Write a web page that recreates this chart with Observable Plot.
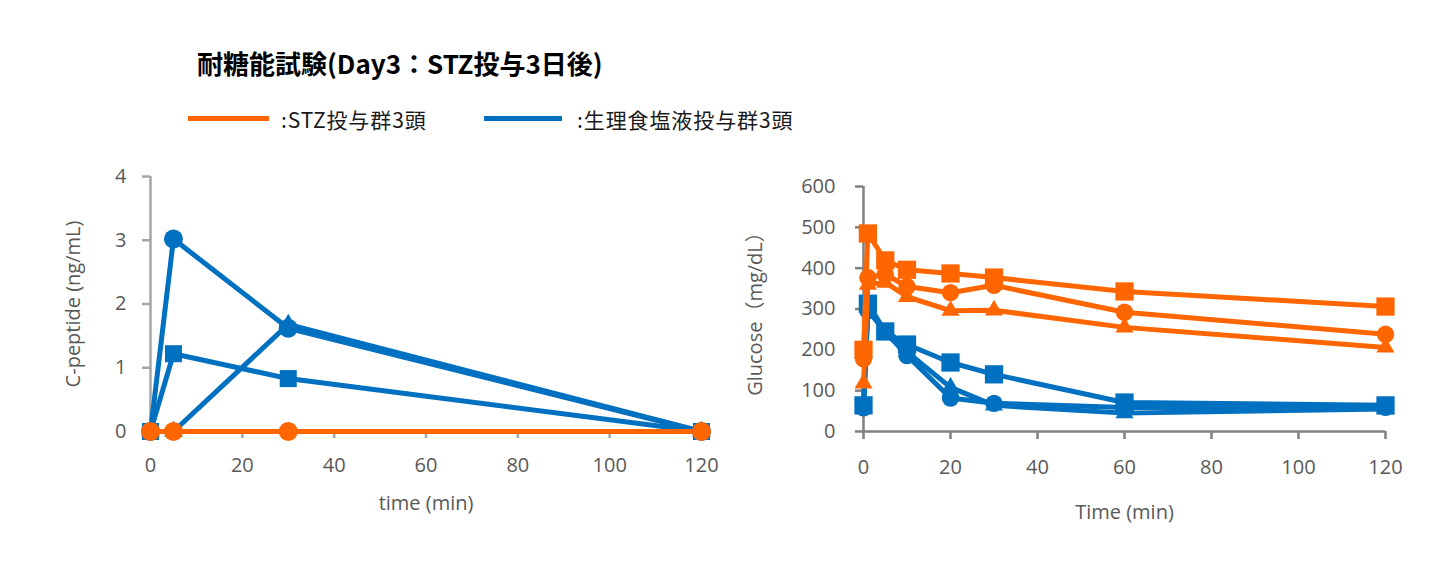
<!DOCTYPE html>
<html><head><meta charset="utf-8">
<script src="https://cdn.jsdelivr.net/npm/d3@7"></script>
<script src="https://cdn.jsdelivr.net/npm/@observablehq/plot@0.6"></script>
<style>
body{margin:0;background:#fff;}
#root{position:relative;width:1440px;height:570px;background:#fff;font-family:"Open Sans","Noto Sans CJK JP",sans-serif;overflow:hidden;}
.abs{position:absolute;}
#title{left:197px;top:49px;font-family:"Noto Sans CJK JP",sans-serif;font-weight:bold;font-size:26px;line-height:28px;color:#000;white-space:nowrap;}
.lgline{height:5px;}
.lgtext{font-family:"Noto Sans CJK JP",sans-serif;font-size:21px;line-height:22px;letter-spacing:0.9px;color:#1a1a1a;white-space:nowrap;}
</style></head>
<body><div id="root"></div>
<script>
// ---- data ----
const titleText = "耐糖能試験(Day3：STZ投与3日後)";
const groups = ["saline", "STZ"];
const groupLabels = [":STZ投与群3頭", ":生理食塩液投与群3頭"];
const groupColors = ["#0070C0", "#FF6600"];

// C-peptide (ng/mL)
const cpTime = [0, 5, 30, 120];
const cpSalineSquare = [0, 1.22, 0.83, 0];
const cpSalineTriangle = [0, 0, 1.68, 0];
const cpSalineCircle = [0, 3.02, 1.62, 0];
const cpStzCircle = [0, 0, 0, 0];
const cpTicksX = [0, 20, 40, 60, 80, 100, 120];
const cpTicksY = [0, 1, 2, 3, 4];

// Glucose (mg/dL)
const gluTime = [0, 1, 5, 10, 20, 30, 60, 120];
const gluSalineSquare = [64, 313, 245, 213, 169, 140, 71, 64];
const gluSalineTriangle = [58, 305, 240, 195, 108, 64, 45, 55];
const gluSalineCircle = [58, 296, 245, 186, 82, 69, 59, 59];
const gluStzSquare = [200, 485, 419, 396, 387, 377, 343, 306];
const gluStzTriangle = [118, 360, 365, 330, 296, 297, 255, 206];
const gluStzCircle = [178, 377, 385, 355, 340, 358, 292, 238];
const gluTicksX = [0, 20, 40, 60, 80, 100, 120];
const gluTicksY = [0, 100, 200, 300, 400, 500, 600];

function rows(group, shape, times, values) {
  return times.map((t, i) => ({t, v: values[i], group, shape, id: group + "-" + shape}));
}
const cpRows = [
  ...rows("saline", "square", cpTime, cpSalineSquare),
  ...rows("saline", "triangle", cpTime, cpSalineTriangle),
  ...rows("saline", "circle", cpTime, cpSalineCircle),
  ...rows("STZ", "circle", cpTime, cpStzCircle)
];
const gluRows = [
  ...rows("saline", "square", gluTime, gluSalineSquare),
  ...rows("saline", "triangle", gluTime, gluSalineTriangle),
  ...rows("saline", "circle", gluTime, gluSalineCircle),
  ...rows("STZ", "square", gluTime, gluStzSquare),
  ...rows("STZ", "triangle", gluTime, gluStzTriangle),
  ...rows("STZ", "circle", gluTime, gluStzCircle)
];

const root = document.getElementById("root");
function div(cls, style, text) {
  const d = document.createElement("div");
  d.className = "abs " + cls;
  Object.assign(d.style, style);
  if (text) d.textContent = text;
  root.appendChild(d);
  return d;
}
const t = div("", {}, titleText); t.id = "title";
// legend
div("lgline", {left: "188px", top: "116px", width: "81px", background: groupColors[1]});
div("lgtext", {left: "281px", top: "108px"}, groupLabels[0]);
div("lgline", {left: "484px", top: "116px", width: "78px", background: groupColors[0]});
div("lgtext", {left: "577px", top: "108px"}, groupLabels[1]);

function chart(data, cfg) {
  const marks = [];
  marks.push(Plot.ruleY([0], {stroke: cfg.axisColor, strokeWidth: 2.5}));
  marks.push(Plot.ruleX([0], {stroke: cfg.axisColor, strokeWidth: 2.5}));
  marks.push(Plot.axisX({ticks: cfg.ticksX, tickSize: cfg.tickSizeX, tickPadding: cfg.tickPadX, fontSize: 20,
    stroke: cfg.axisColor, strokeWidth: 2.5, fill: "#595959", label: cfg.labelX, labelAnchor: "center", labelArrow: "none",
    labelOffset: cfg.labelOffX, tickFormat: d => String(d)}));
  marks.push(Plot.axisY({ticks: cfg.ticksY, tickSize: 8, tickPadding: cfg.tickPadY, fontSize: 20,
    stroke: cfg.axisColor, strokeWidth: 2.5, fill: "#595959", label: cfg.labelY, labelAnchor: "center", labelArrow: "none",
    labelOffset: cfg.labelOffY, tickFormat: d => String(d)}));
  for (const g of groups) {
    const sub = data.filter(d => d.group === g);
    marks.push(Plot.line(sub, {x: "t", y: "v", z: "id", stroke: "group", strokeWidth: 5, strokeLinejoin: "round"}));
    marks.push(Plot.dot(sub, {x: "t", y: "v", symbol: "shape", fill: "group", r: d => cfg.r[d.shape]}));
  }
  const svg = Plot.plot({
    width: 720, height: 400,
    marginLeft: cfg.ml, marginRight: cfg.mr, marginTop: cfg.mt, marginBottom: 119,
    style: {fontFamily: "'Open Sans', 'Noto Sans CJK JP', sans-serif", background: "transparent", overflow: "visible"},
    x: {domain: [0, 120]},
    y: {domain: cfg.domainY},
    r: {type: "identity"},
    color: {domain: groups, range: groupColors},
    symbol: {domain: ["square", "triangle", "circle"], range: ["square", "triangle", "circle"]},
    marks
  });
  svg.style.position = "absolute";
  svg.style.left = cfg.left + "px";
  svg.style.top = "150px";
  root.appendChild(svg);
}

chart(cpRows, {left: 0, ml: 150, mr: 19, mt: 26, domainY: [0, 4], ticksX: cpTicksX, ticksY: cpTicksY,
  axisColor: "#a6a6a6", tickSizeX: 7, tickPadX: 19, tickPadY: 16, labelX: "time (min)", labelY: "C-peptide (ng/mL)",
  labelOffX: 78, labelOffY: 85, r: {circle: 9.5, square: 9.6, triangle: 6.9}});
chart(gluRows, {left: 720, ml: 143, mr: 55, mt: 36, domainY: [0, 600], ticksX: gluTicksX, ticksY: gluTicksY,
  axisColor: "#808080", tickSizeX: 8, tickPadX: 20, tickPadY: 20, labelX: "Time (min)", labelY: "Glucose（mg/dL）",
  labelOffX: 87, labelOffY: 116, r: {circle: 8.7, square: 10.3, triangle: 6.7}});
</script>
</body></html>
